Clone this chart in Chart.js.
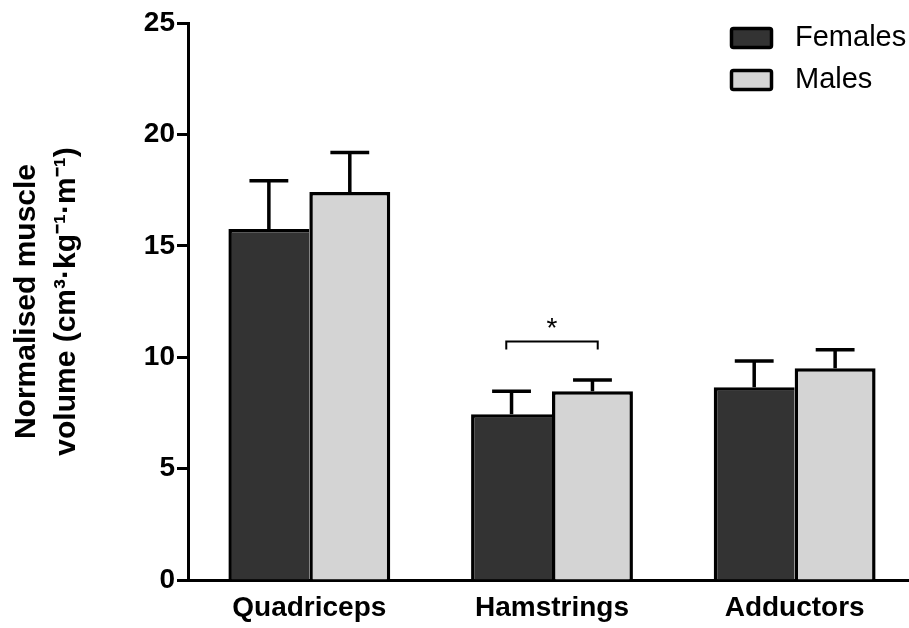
<!DOCTYPE html>
<html lang="en">
<head>
    <meta charset="UTF-8">
    <title>Normalised muscle volume</title>
    <style>
        html, body {
            margin: 0;
            padding: 0;
            background: #ffffff;
            overflow: hidden;
        }
        .chart-wrap {
            width: 917px;
            height: 628px;
            position: relative;
        }
    </style>
</head>
<body>
    <div class="chart-wrap">
        <canvas id="volume-chart"></canvas>
    </div>

    <script src="https://cdn.jsdelivr.net/npm/chart.js"></script>
    <script>
        // data
        const muscles = ['Quadriceps', 'Hamstrings', 'Adductors'];
        const females = [15.75, 7.44, 8.65];
        const femalesSD = [2.17, 1.03, 1.18];
        const males = [17.42, 8.47, 9.5];
        const malesSD = [1.77, 0.51, 0.83];
        const yTicks = [0, 5, 10, 15, 20, 25];
        const yTitle = ['Normalised muscle', 'volume (cm³·kg⁻¹·m⁻¹)'];
        // significance bracket between the two Hamstrings bars
        const sigMuscle = 'Hamstrings';
        const sigLevel = 10.7;
        const sigLabel = '*';

        const FONT = "'Liberation Sans', Arial, sans-serif";

        // upward-only error bars
        const errorBars = {
            id: 'errorBars',
            afterDatasetsDraw(chart) {
                const ctx = chart.ctx;
                const y = chart.scales.y;
                ctx.save();
                ctx.strokeStyle = '#000';
                ctx.lineWidth = 3.5;
                chart.data.datasets.forEach((ds, di) => {
                    const meta = chart.getDatasetMeta(di);
                    meta.data.forEach((bar, i) => {
                        const top = y.getPixelForValue(ds.data[i] + ds.sd[i]);
                        const half = bar.width * 0.24;
                        ctx.beginPath();
                        ctx.moveTo(bar.x, bar.y);
                        ctx.lineTo(bar.x, top);
                        ctx.moveTo(bar.x - half, top);
                        ctx.lineTo(bar.x + half, top);
                        ctx.stroke();
                    });
                });
                ctx.restore();
            }
        };

        // bracket with asterisk
        const significance = {
            id: 'significance',
            afterDatasetsDraw(chart) {
                const ctx = chart.ctx;
                const y = chart.scales.y;
                const idx = muscles.indexOf(sigMuscle);
                const a = chart.getDatasetMeta(0).data[idx];
                const b = chart.getDatasetMeta(1).data[idx];
                const x1 = a.x - a.width * 0.065;
                const x2 = b.x + b.width * 0.065;
                const yl = y.getPixelForValue(sigLevel);
                ctx.save();
                ctx.strokeStyle = '#000';
                ctx.lineWidth = 2;
                ctx.beginPath();
                ctx.moveTo(x1, yl + 8);
                ctx.lineTo(x1, yl);
                ctx.lineTo(x2, yl);
                ctx.lineTo(x2, yl + 8);
                ctx.stroke();
                ctx.fillStyle = '#000';
                ctx.font = '28px ' + FONT;
                ctx.textAlign = 'center';
                ctx.textBaseline = 'middle';
                ctx.fillText(sigLabel, (x1 + x2) / 2, yl - 12);
                ctx.restore();
            }
        };

        // legend in the top right corner
        const cornerLegend = {
            id: 'cornerLegend',
            afterDraw(chart) {
                const ctx = chart.ctx;
                ctx.save();
                chart.data.datasets.forEach((ds, i) => {
                    const top = 27 + i * 42;
                    ctx.fillStyle = ds.backgroundColor;
                    ctx.strokeStyle = '#000';
                    ctx.lineWidth = 3.5;
                    ctx.beginPath();
                    ctx.roundRect(731.5, top + 1.5, 40, 19, 2);
                    ctx.fill();
                    ctx.stroke();
                    ctx.fillStyle = '#000';
                    ctx.font = '29px ' + FONT;
                    ctx.textAlign = 'left';
                    ctx.textBaseline = 'middle';
                    ctx.fillText(ds.label, 795, top + 11);
                });
                ctx.restore();
            }
        };

        const ctxBar = document.getElementById('volume-chart').getContext('2d');
        new Chart(ctxBar, {
            type: 'bar',
            data: {
                labels: muscles,
                datasets: [{
                    label: 'Females',
                    data: females,
                    sd: femalesSD,
                    backgroundColor: '#333333',
                    borderColor: '#000',
                    borderWidth: { top: 3.5, left: 3.5, right: 0, bottom: 0 },
                    borderSkipped: false
                }, {
                    label: 'Males',
                    data: males,
                    sd: malesSD,
                    backgroundColor: '#d4d4d4',
                    borderColor: '#000',
                    borderWidth: { top: 3.5, left: 3.5, right: 3.5, bottom: 0 },
                    borderSkipped: false
                }]
            },
            options: {
                responsive: true,
                maintainAspectRatio: false,
                animation: false,
                barPercentage: 1,
                categoryPercentage: 0.667,
                layout: { padding: { top: 23, right: 1, left: 0, bottom: 0 } },
                plugins: {
                    legend: { display: false },
                    tooltip: { enabled: false }
                },
                scales: {
                    x: {
                        grid: { display: false, drawTicks: false },
                        border: { display: true, color: '#000', width: 3 },
                        ticks: {
                            color: '#000',
                            padding: 11,
                            font: { family: FONT, size: 28, weight: 'bold' }
                        },
                        afterFit(scale) { scale.height = 48; }
                    },
                    y: {
                        min: 0,
                        max: 25,
                        afterBuildTicks(scale) {
                            scale.ticks = yTicks.map(v => ({ value: v }));
                        },
                        afterFit(scale) { scale.width = 188; },
                        grid: {
                            drawOnChartArea: false,
                            drawTicks: true,
                            tickLength: 11,
                            tickWidth: 3,
                            tickColor: '#000'
                        },
                        border: { display: true, color: '#000', width: 3 },
                        ticks: {
                            color: '#000',
                            padding: 2,
                            font: { family: FONT, size: 28, weight: 'bold' }
                        },
                        title: {
                            display: true,
                            text: yTitle,
                            color: '#000',
                            padding: { top: 6, bottom: 0 },
                            font: { family: FONT, size: 30, weight: 'bold', lineHeight: 1.35 }
                        }
                    }
                }
            },
            plugins: [errorBars, significance, cornerLegend]
        });
    </script>
</body>
</html>
